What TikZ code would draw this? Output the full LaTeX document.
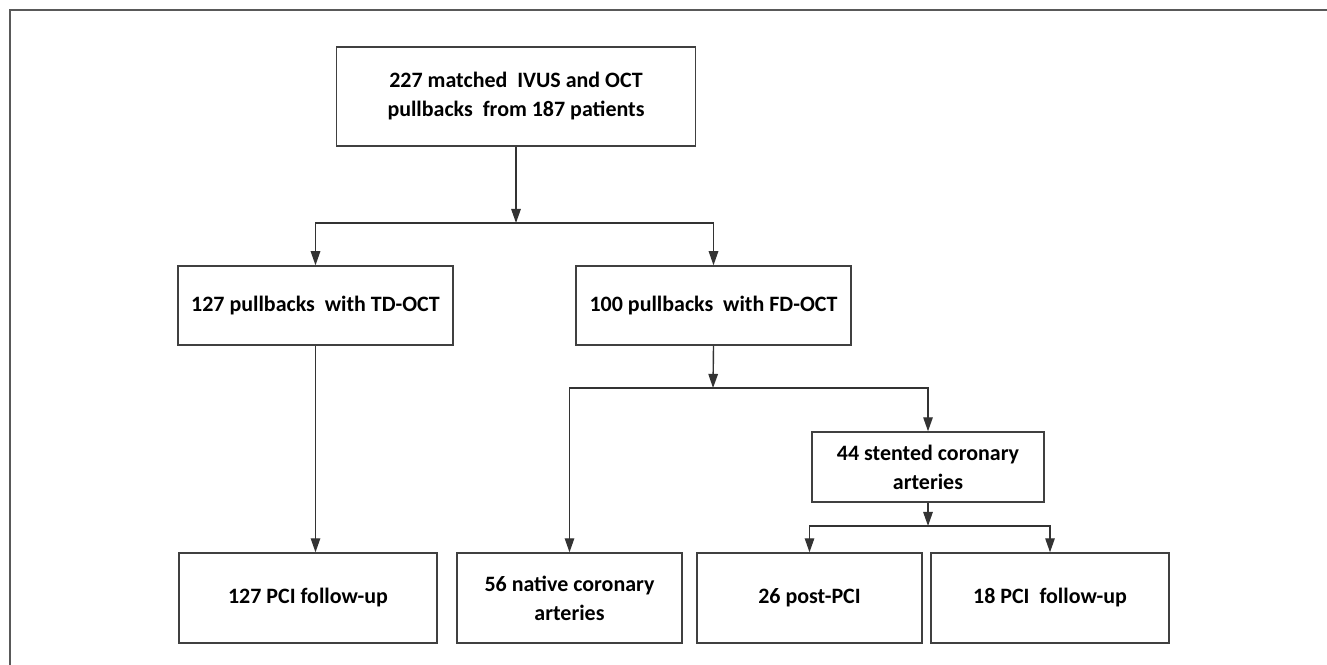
\documentclass[tikz,border=0pt]{standalone}
\usepackage{fontspec}
\setmainfont{Carlito}
\usetikzlibrary{arrows.meta}

\tikzset{
  box/.style={draw=black!75, line width=0.8pt, align=center, inner sep=2pt,
    font=\bfseries\fontsize{12.5}{16.5}\selectfont},
  link/.style={draw=black!80, line width=0.8pt},
  arr/.style={link, -{Triangle[length=8pt, width=5.4pt]}},
  frame/.style={draw=black!65, line width=0.6pt}
}

\begin{document}
\begin{tikzpicture}[x=0.02cm, y=-0.02cm]
  \useasboundingbox (0,0) rectangle (1327,665);
  \draw[frame] (10,665) -- (10,10) -- (1327,10); % outer frame

  % boxes
  \node[box, minimum width=7.18cm, minimum height=1.98cm] (all) at (516,96.5)
    {227 matched\ \ IVUS and OCT\\pullbacks\ \ from 187 patients};
  \node[box, minimum width=5.5cm, minimum height=1.58cm] (td) at (315.5,305.5)
    {127 pullbacks\ \ with TD-OCT};
  \node[box, minimum width=5.5cm, minimum height=1.58cm] (fd) at (713.5,305.5)
    {100 pullbacks\ \ with FD-OCT};
  \node[box, minimum width=4.64cm, minimum height=1.4cm] (stent) at (928,467)
    {44 stented coronary\\arteries};
  \node[box, minimum width=5.16cm, minimum height=1.8cm] (tdfu) at (308,598)
    {127 PCI follow-up};
  \node[box, minimum width=4.5cm, minimum height=1.8cm] (native) at (569.5,598)
    {56 native coronary\\arteries};
  \node[box, minimum width=4.5cm, minimum height=1.8cm] (post) at (809.5,598)
    {26 post-PCI};
  \node[box, minimum width=4.76cm, minimum height=1.8cm] (fdfu) at (1050,598)
    {18 PCI\ \ follow-up};

  % split points
  \coordinate (split1) at (516,223);
  \coordinate (split2) at (713,388);
  \coordinate (split3) at (928,526);

  % connectors
  \draw[arr] (all.south) -- (split1);
  \draw[arr] (split1) -| (td.north);
  \draw[arr] (split1) -| (fd.north);
  \draw[arr] (td.south) -- (td.south |- tdfu.north);
  \draw[arr] (fd.south) -- (split2);
  \draw[arr] (split2) -| (native.north);
  \draw[arr] (split2) -| (stent.north);
  \draw[arr] (stent.south) -- (split3);
  \draw[arr] (split3) -| (post.north);
  \draw[arr] (split3) -| (fdfu.north);
\end{tikzpicture}
\end{document}
